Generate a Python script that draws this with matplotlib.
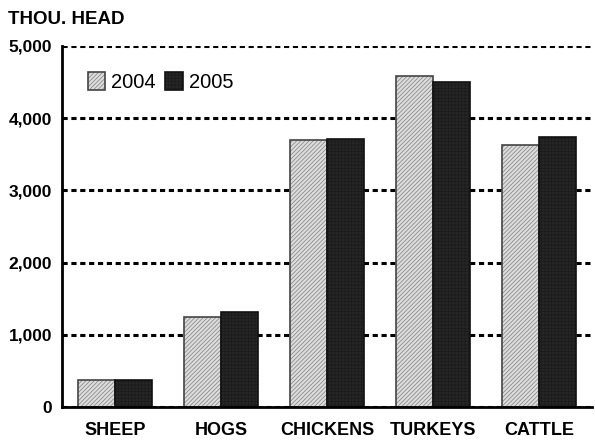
import matplotlib
matplotlib.use("Agg")
import matplotlib.pyplot as plt
import numpy as np

plt.rcParams['font.family'] = ['Liberation Sans', 'DejaVu Sans']
plt.rcParams['hatch.linewidth'] = 0.5

categories = ["SHEEP", "HOGS", "CHICKENS", "TURKEYS", "CATTLE"]
years = ["2004", "2005"]
v2004 = [375, 1250, 3700, 4580, 3630]
v2005 = [375, 1320, 3715, 4500, 3740]
yticks = [0, 1000, 2000, 3000, 4000, 5000]
ytick_labels = ["0", "1,000", "2,000", "3,000", "4,000", "5,000"]

fig = plt.figure(figsize=(5.95, 4.41), dpi=100)
ax = fig.add_axes([62/595, 1 - 407/441, 530/595, 361/441])

x = np.arange(len(categories))
w = 0.35
for yv in yticks:
    ax.axhline(yv, color='black', linestyle=(0, (1.7, 1.2)), linewidth=2.2, zorder=1)

b1 = ax.bar(x - w/2, v2004, w, facecolor='#dcdcdc', edgecolor='#444444',
            hatch='////////', linewidth=1.2, zorder=2, label=years[0])
b2 = ax.bar(x + w/2, v2005, w, facecolor='#262626', edgecolor='#111111',
            hatch='+++++', linewidth=1.2, zorder=2, label=years[1])
for p in b1:
    p._hatch_color = (0.5, 0.5, 0.5, 1)
for p in b2:
    p._hatch_color = (0.1, 0.1, 0.1, 1)

ax.set_xlim(-0.5, 4.5)
ax.set_ylim(0, 5000)
ax.set_yticks(yticks)
ax.set_yticklabels(ytick_labels, fontsize=12.5, fontweight='bold')
ax.set_xticks(x)
ax.set_xticklabels(categories, fontsize=13, fontweight='bold')
ax.tick_params(axis='y', length=0, pad=7)
ax.tick_params(axis='x', length=0, pad=11)
ax.spines['top'].set_visible(False)
ax.spines['right'].set_visible(False)
ax.spines['left'].set_linewidth(2)
ax.spines['bottom'].set_linewidth(2)

leg = ax.legend(loc='upper left', bbox_to_anchor=(0.033, 0.95), ncol=2, frameon=False,
                fontsize=14.5, handlelength=0.85, handleheight=1.0, handletextpad=0.3,
                columnspacing=0.5, borderaxespad=0)
for h, src in zip(leg.legend_handles, [b1[0], b2[0]]):
    h._hatch_color = src._hatch_color

fig.text(8/595, 1 - 19/441, "THOU. HEAD", fontsize=13.5, fontweight='bold',
         va='center', ha='left')

fig.savefig("out.png", dpi=100)
